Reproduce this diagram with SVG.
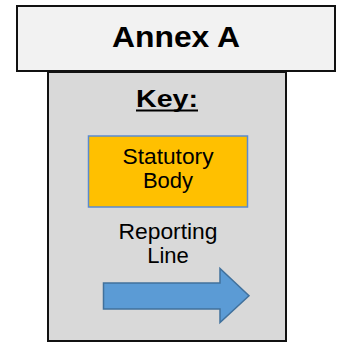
<svg xmlns="http://www.w3.org/2000/svg" width="338" height="342" viewBox="0 0 338 342">
  <style>
    .frame { stroke: #111; stroke-width: 2; }
    .lbl { font-family: "Liberation Sans", Arial, sans-serif; fill: #000; text-anchor: middle; }
  </style>
  <rect width="338" height="342" fill="#ffffff"/>

  <!-- key panel -->
  <g id="key-panel">
    <rect class="frame" x="48" y="72" width="238" height="269" fill="#d9d9d9"/>
    <text class="lbl" x="167" y="107" font-size="24" font-weight="bold" textLength="62" lengthAdjust="spacingAndGlyphs">Key:</text>
    <line x1="136" y1="110.5" x2="198" y2="110.5" stroke="#000" stroke-width="2"/>
  </g>

  <!-- title banner -->
  <g id="title">
    <rect class="frame" x="17" y="6" width="318" height="65" fill="#f2f2f2"/>
    <text class="lbl" x="176" y="47" font-size="30" font-weight="bold" textLength="128" lengthAdjust="spacingAndGlyphs">Annex A</text>
  </g>

  <!-- statutory body sample -->
  <g id="statutory-body">
    <rect x="88.5" y="136" width="159" height="71" fill="#ffc000" stroke="#5b8bd0" stroke-width="1.5"/>
    <text class="lbl" x="168" y="164" font-size="22" textLength="91" lengthAdjust="spacingAndGlyphs">Statutory</text>
    <text class="lbl" x="168" y="188" font-size="22">Body</text>
  </g>

  <!-- reporting line sample -->
  <g id="reporting-line">
    <text class="lbl" x="168" y="239" font-size="22" textLength="99" lengthAdjust="spacingAndGlyphs">Reporting</text>
    <text class="lbl" x="168" y="263" font-size="22">Line</text>
  </g>

  <g id="connectors">
    <path d="M103.5,283 L220,283 L220,268.5 L249,295.8 L220,322.5 L220,309 L103.5,309 Z" fill="#5b9bd5" stroke="#41719c" stroke-width="1.5" stroke-linejoin="miter"/>
  </g>
</svg>
